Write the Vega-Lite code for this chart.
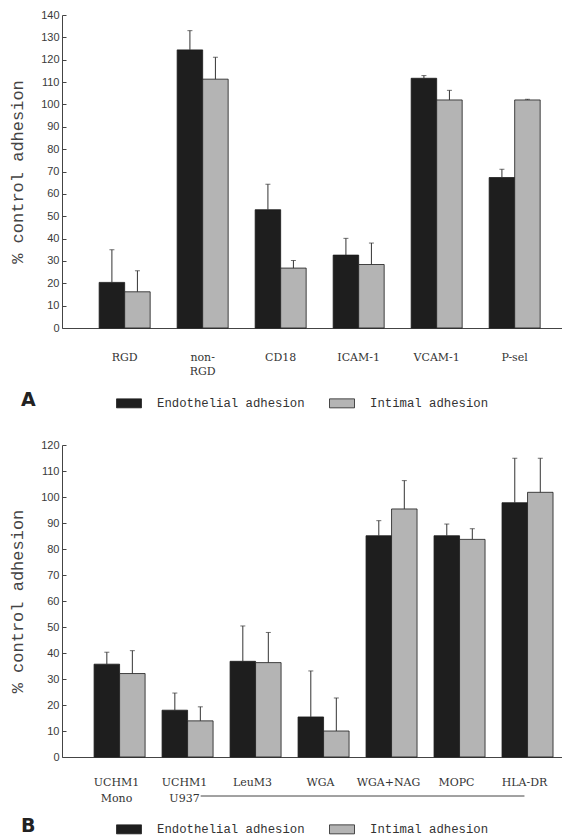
{
  "$schema": "https://vega.github.io/schema/vega-lite/v6.json",
  "background": "white",
  "padding": {"left": 8, "top": 9, "right": 0, "bottom": 0},
  "bounds": "flush",
  "spacing": 117,
  "config": {
    "view": {"stroke": null},
    "axis": {"grid": false},
    "axisY": {"labelFont": "Liberation Sans", "labelFontSize": 11, "labelColor": "#3a3a3a", "labelOverlap": false, "tickSize": -4, "tickColor": "#444", "domainColor": "#444", "titleFont": "Liberation Mono", "titleFontSize": 17, "titleFontWeight": "normal", "titleColor": "#444", "labelPadding": 7, "titlePadding": 14},
    "axisX": {"ticks": false, "labelFont": "DejaVu Serif", "labelFontSize": 11, "labelColor": "#333", "labelAngle": 0, "labelPadding": 23, "domainColor": "#444", "labelLineHeight": 14},
    "legend": {"orient": "none", "direction": "horizontal", "titleOrient": "left", "titleFont": "DejaVu Sans", "titleFontSize": 19, "titleFontWeight": "bold", "titleColor": "#222", "titlePadding": 80, "labelFont": "Liberation Mono", "labelFontSize": 12.3, "labelColor": "#333", "labelOffset": 15, "columnPadding": 22, "symbolType": "M-1,-0.36H1V0.36H-1Z", "symbolSize": 625, "symbolStrokeColor": "#222", "symbolStrokeWidth": 0.8}
  },
  "resolve": {"legend": {"color": "independent"}},
  "datasets": {
    "A": [
      {"cat": "RGD", "series": "Endothelial adhesion", "value": 20.4, "err": 35.0},
      {"cat": "RGD", "series": "Intimal adhesion", "value": 16.2, "err": 25.6},
      {"cat": "non-|RGD", "series": "Endothelial adhesion", "value": 124.4, "err": 133.0},
      {"cat": "non-|RGD", "series": "Intimal adhesion", "value": 111.3, "err": 121.1},
      {"cat": "CD18", "series": "Endothelial adhesion", "value": 52.9, "err": 64.3},
      {"cat": "CD18", "series": "Intimal adhesion", "value": 26.8, "err": 30.2},
      {"cat": "ICAM-1", "series": "Endothelial adhesion", "value": 32.6, "err": 40.1},
      {"cat": "ICAM-1", "series": "Intimal adhesion", "value": 28.4, "err": 38.0},
      {"cat": "VCAM-1", "series": "Endothelial adhesion", "value": 111.7, "err": 112.9},
      {"cat": "VCAM-1", "series": "Intimal adhesion", "value": 102.0, "err": 106.3},
      {"cat": "P-sel", "series": "Endothelial adhesion", "value": 67.3, "err": 71.0},
      {"cat": "P-sel", "series": "Intimal adhesion", "value": 102.0, "err": 102.3}
    ],
    "B": [
      {"cat": "UCHM1|Mono", "series": "Endothelial adhesion", "value": 35.7, "err": 40.3},
      {"cat": "UCHM1|Mono", "series": "Intimal adhesion", "value": 32.1, "err": 40.9},
      {"cat": "UCHM1|U937", "series": "Endothelial adhesion", "value": 18.0, "err": 24.6},
      {"cat": "UCHM1|U937", "series": "Intimal adhesion", "value": 13.9, "err": 19.3},
      {"cat": "LeuM3", "series": "Endothelial adhesion", "value": 36.8, "err": 50.4},
      {"cat": "LeuM3", "series": "Intimal adhesion", "value": 36.3, "err": 47.9},
      {"cat": "WGA", "series": "Endothelial adhesion", "value": 15.4, "err": 33.1},
      {"cat": "WGA", "series": "Intimal adhesion", "value": 10.0, "err": 22.7},
      {"cat": "WGA+NAG", "series": "Endothelial adhesion", "value": 85.1, "err": 90.9},
      {"cat": "WGA+NAG", "series": "Intimal adhesion", "value": 95.4, "err": 106.3},
      {"cat": "MOPC", "series": "Endothelial adhesion", "value": 85.1, "err": 89.6},
      {"cat": "MOPC", "series": "Intimal adhesion", "value": 83.7, "err": 87.8},
      {"cat": "HLA-DR", "series": "Endothelial adhesion", "value": 97.8, "err": 114.9},
      {"cat": "HLA-DR", "series": "Intimal adhesion", "value": 101.8, "err": 114.9}
    ],
    "Bline": [
      {"from": "UCHM1|U937", "to": "HLA-DR", "level": -15}
    ]
  },
  "vconcat": [
    {
      "width": 500,
      "height": 313,
      "data": {"name": "A"},
      "layer": [
        {
          "mark": {"type": "bar", "stroke": "#1a1a1a", "strokeWidth": 0.8},
          "encoding": {
            "x": {"field": "cat", "type": "nominal", "sort": null, "scale": {"paddingInner": 0.346, "paddingOuter": 0.378, "align": 0.63}, "axis": {"title": null, "labelExpr": "split(datum.label,'|')"}},
            "xOffset": {"field": "series", "type": "nominal", "scale": {"paddingInner": 0, "paddingOuter": 0}},
            "y": {"field": "value", "type": "quantitative", "scale": {"domain": [0, 140], "nice": false}, "axis": {"title": "% control adhesion", "values": [0, 10, 20, 30, 40, 50, 60, 70, 80, 90, 100, 110, 120, 130, 140]}},
            "color": {"field": "series", "type": "nominal", "scale": {"domain": ["Endothelial adhesion", "Intimal adhesion"], "range": ["#1e1e1e", "#b4b4b4"]}, "legend": {"title": "A", "legendX": -41, "legendY": 375}}
          }
        },
        {
          "mark": {"type": "rule", "color": "#333", "strokeWidth": 1},
          "encoding": {
            "x": {"field": "cat", "type": "nominal", "sort": null},
            "xOffset": {"field": "series", "type": "nominal"},
            "y": {"field": "value", "type": "quantitative", "axis": {"title": "% control adhesion", "values": [0, 10, 20, 30, 40, 50, 60, 70, 80, 90, 100, 110, 120, 130, 140]}},
            "y2": {"field": "err"}
          }
        },
        {
          "mark": {"type": "tick", "color": "#333", "thickness": 1, "size": 5, "orient": "horizontal"},
          "encoding": {
            "x": {"field": "cat", "type": "nominal", "sort": null},
            "xOffset": {"field": "series", "type": "nominal"},
            "y": {"field": "err", "type": "quantitative", "axis": {"title": "% control adhesion", "values": [0, 10, 20, 30, 40, 50, 60, 70, 80, 90, 100, 110, 120, 130, 140]}}
          }
        }
      ]
    },
    {
      "width": 500,
      "height": 312,
      "layer": [
        {
          "data": {"name": "B"},
          "mark": {"type": "bar", "stroke": "#1a1a1a", "strokeWidth": 0.8},
          "encoding": {
            "x": {"field": "cat", "type": "nominal", "sort": null, "scale": {"domain": ["UCHM1|Mono", "UCHM1|U937", "LeuM3", "WGA", "WGA+NAG", "MOPC", "HLA-DR"], "paddingInner": 0.34, "paddingOuter": 0.347, "align": 0.68}, "axis": {"title": null, "labelExpr": "split(datum.label,'|')", "labelPadding": 19, "labelLineHeight": 16}},
            "xOffset": {"field": "series", "type": "nominal", "scale": {"paddingInner": 0, "paddingOuter": 0}},
            "y": {"field": "value", "type": "quantitative", "scale": {"domain": [0, 120], "nice": false}, "axis": {"title": "% control adhesion", "values": [0, 10, 20, 30, 40, 50, 60, 70, 80, 90, 100, 110, 120]}},
            "color": {"field": "series", "type": "nominal", "scale": {"domain": ["Endothelial adhesion", "Intimal adhesion"], "range": ["#1e1e1e", "#b4b4b4"]}, "legend": {"title": "B", "legendX": -41, "legendY": 371}}
          }
        },
        {
          "data": {"name": "B"},
          "mark": {"type": "rule", "color": "#333", "strokeWidth": 1},
          "encoding": {
            "x": {"field": "cat", "type": "nominal", "sort": null},
            "xOffset": {"field": "series", "type": "nominal"},
            "y": {"field": "value", "type": "quantitative", "axis": {"title": "% control adhesion", "values": [0, 10, 20, 30, 40, 50, 60, 70, 80, 90, 100, 110, 120]}},
            "y2": {"field": "err"}
          }
        },
        {
          "data": {"name": "B"},
          "mark": {"type": "tick", "color": "#333", "thickness": 1, "size": 5, "orient": "horizontal"},
          "encoding": {
            "x": {"field": "cat", "type": "nominal", "sort": null},
            "xOffset": {"field": "series", "type": "nominal"},
            "y": {"field": "err", "type": "quantitative", "axis": {"title": "% control adhesion", "values": [0, 10, 20, 30, 40, 50, 60, 70, 80, 90, 100, 110, 120]}}
          }
        },
        {
          "data": {"name": "Bline"},
          "mark": {"type": "rule", "color": "#444", "strokeWidth": 1, "clip": false},
          "encoding": {
            "x": {"field": "from", "type": "nominal", "sort": null, "bandPosition": 0.86},
            "x2": {"field": "to"},
            "y": {"field": "level", "type": "quantitative", "axis": {"title": "% control adhesion", "values": [0, 10, 20, 30, 40, 50, 60, 70, 80, 90, 100, 110, 120]}}
          }
        }
      ]
    }
  ]
}
